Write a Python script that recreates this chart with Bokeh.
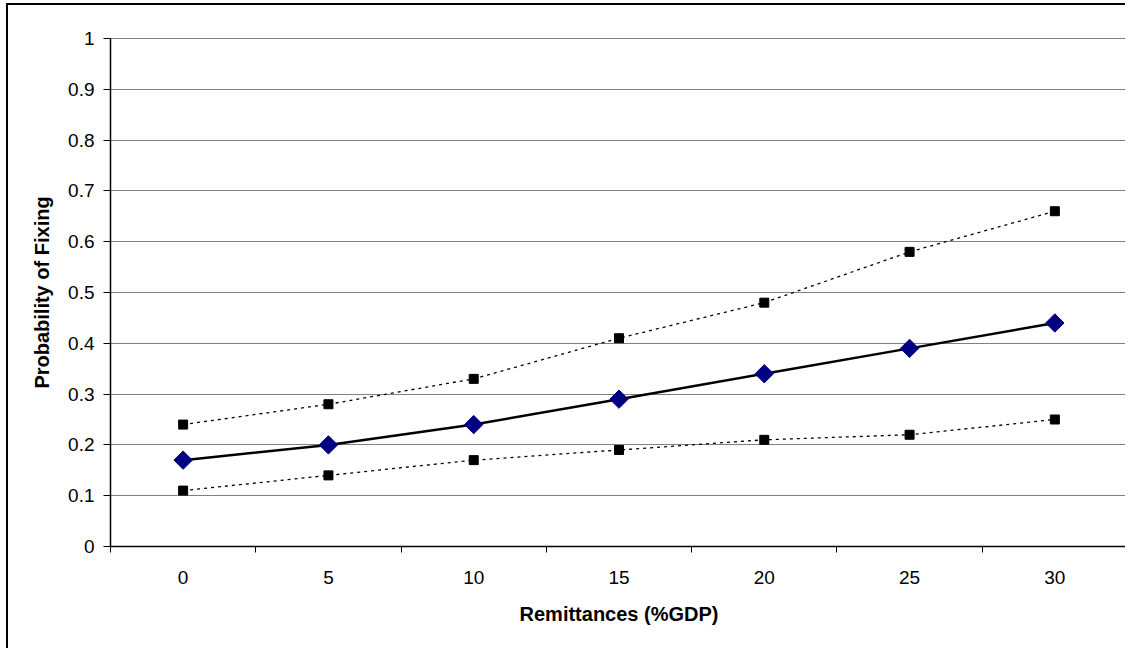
from bokeh.plotting import figure
from bokeh.models import FixedTicker, Range1d, ColumnDataSource
from bokeh.embed import file_html
from bokeh.resources import INLINE

categories = ["0", "5", "10", "15", "20", "25", "30"]
estimate = [0.17, 0.20, 0.24, 0.29, 0.34, 0.39, 0.44]
upper = [0.24, 0.28, 0.33, 0.41, 0.48, 0.58, 0.66]
lower = [0.11, 0.14, 0.17, 0.19, 0.21, 0.22, 0.25]
y_ticks = [0, 0.1, 0.2, 0.3, 0.4, 0.5, 0.6, 0.7, 0.8, 0.9, 1]
y_labels = ["0", "0.1", "0.2", "0.3", "0.4", "0.5", "0.6", "0.7", "0.8", "0.9", "1"]

idx = list(range(len(categories)))
src = ColumnDataSource(dict(x=idx, est=estimate, up=upper, lo=lower))

p = figure(width=1119, height=645, output_backend="svg", toolbar_location=None,
           x_range=Range1d(-0.5, len(categories) - 0.5), y_range=Range1d(0, 1),
           min_border_left=102, min_border_right=0, min_border_top=33, min_border_bottom=104)
p.styles = {"border-left": "2px solid black", "border-top": "2px solid black",
            "margin-left": "6px", "margin-top": "3px"}
p.outline_line_color = "#808080"
p.outline_line_width = 1
p.background_fill_color = "white"
p.border_fill_color = "white"

FONT = "Liberation Sans"

# x axis: labels at category centres, ticks between categories
p.xaxis.ticker = FixedTicker(ticks=idx, minor_ticks=[i - 0.5 for i in range(len(categories) + 1)])
p.xaxis.major_label_overrides = {i: c for i, c in zip(idx, categories)}
p.xaxis.major_tick_in = 0
p.xaxis.major_tick_out = 0
p.xaxis.minor_tick_in = 0
p.xaxis.minor_tick_out = 6
p.xaxis.minor_tick_line_color = "black"
p.xaxis.axis_line_color = "black"
p.xaxis.axis_line_width = 1.5
p.xaxis.major_label_standoff = 18
p.xaxis.major_label_text_font = FONT
p.xaxis.major_label_text_font_size = "19px"
p.xaxis.major_label_text_color = "black"
p.xaxis.axis_label = "Remittances (%GDP)"
p.xaxis.axis_label_text_font = FONT
p.xaxis.axis_label_text_font_size = "20px"
p.xaxis.axis_label_text_font_style = "bold"
p.xaxis.axis_label_text_color = "black"
p.xaxis.axis_label_standoff = 16

p.yaxis.ticker = FixedTicker(ticks=y_ticks, minor_ticks=[])
p.yaxis.major_label_overrides = {t: l for t, l in zip(y_ticks, y_labels)}
p.yaxis.major_tick_in = 0
p.yaxis.major_tick_out = 7
p.yaxis.major_tick_line_color = "black"
p.yaxis.axis_line_color = "black"
p.yaxis.axis_line_width = 1.5
p.yaxis.major_label_standoff = 9
p.yaxis.major_label_text_font = FONT
p.yaxis.major_label_text_font_size = "19px"
p.yaxis.major_label_text_color = "black"
p.yaxis.axis_label = "Probability of Fixing"
p.yaxis.axis_label_text_font = FONT
p.yaxis.axis_label_text_font_size = "20px"
p.yaxis.axis_label_text_font_style = "bold"
p.yaxis.axis_label_text_color = "black"
p.yaxis.axis_label_standoff = 12

p.xgrid.grid_line_color = None
p.ygrid.ticker = FixedTicker(ticks=y_ticks)
p.ygrid.grid_line_color = "#808080"
p.ygrid.grid_line_width = 1

# confidence bounds
p.line("x", "up", source=src, line_color="black", line_width=1.3, line_dash="3 4")
p.line("x", "lo", source=src, line_color="black", line_width=1.3, line_dash="3 4")
p.scatter("x", "up", source=src, marker="square", size=9, fill_color="black", line_color="black")
p.scatter("x", "lo", source=src, marker="square", size=9, fill_color="black", line_color="black")

# estimate
p.line("x", "est", source=src, line_color="black", line_width=2.5)
p.scatter("x", "est", source=src, marker="square", angle=0.7854, size=13,
          fill_color="#000080", line_color="#000080")

open("out.html", "w").write(file_html(p, INLINE))
